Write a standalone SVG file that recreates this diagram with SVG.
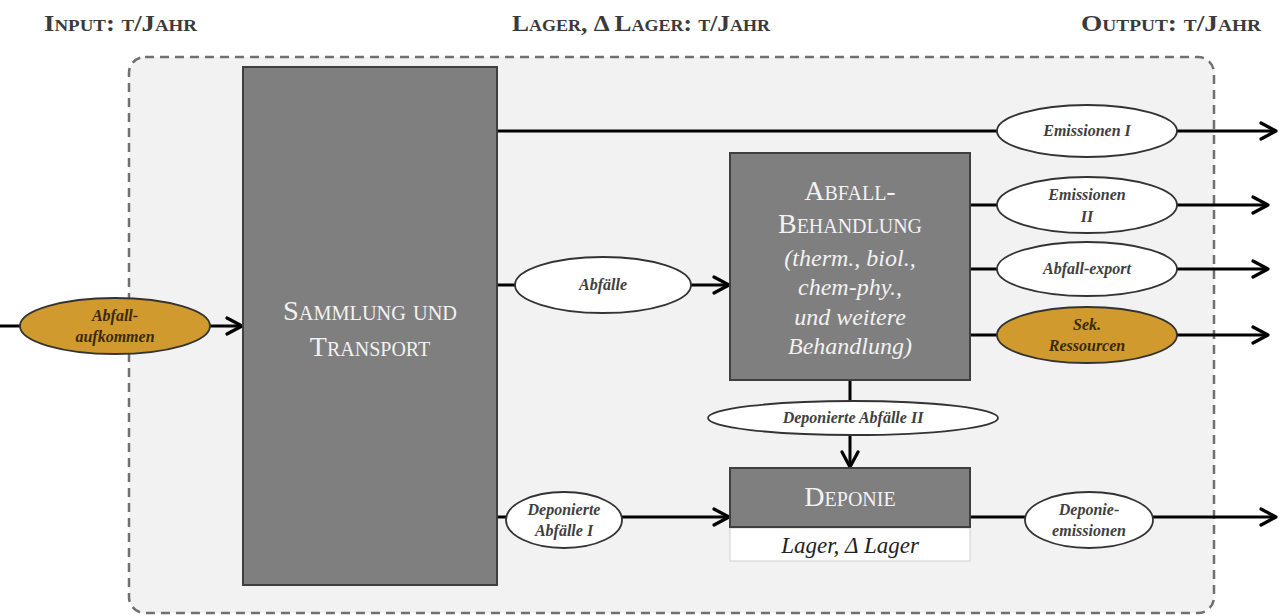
<svg xmlns="http://www.w3.org/2000/svg" width="1280" height="616" viewBox="0 0 1280 616">
<defs>
<marker id="arr" viewBox="0 0 20 20" refX="18" refY="10" markerWidth="20" markerHeight="20" markerUnits="userSpaceOnUse" orient="auto">
<path d="M3,2 L18,10 L3,18" fill="none" stroke="#000" stroke-width="3.2" stroke-linecap="round" stroke-linejoin="round"/>
</marker>
<style>
.hdr{font-family:"Liberation Serif","DejaVu Serif",serif;font-size:24px;font-variant:small-caps;font-weight:bold;fill:#3a3a3a}
.box{fill:#7f7f7f;stroke:#3f3f3f;stroke-width:2}
.btitle{font-family:"Liberation Serif","DejaVu Serif",serif;font-size:28px;font-variant:small-caps;fill:#f2f2f2;text-anchor:middle}
.bsub{font-family:"Liberation Serif","DejaVu Serif",serif;font-size:24px;font-style:italic;fill:#f2f2f2;text-anchor:middle}
.ell{fill:#ffffff;stroke:#333;stroke-width:1.8}
.gold{fill:#d09a2e;stroke:#333;stroke-width:1.8}
.et{font-family:"Liberation Serif","DejaVu Serif",serif;font-size:16px;font-style:italic;font-weight:bold;fill:#404040;text-anchor:middle}
.etg{font-family:"Liberation Serif","DejaVu Serif",serif;font-size:16px;font-style:italic;font-weight:bold;fill:#3a2a05;text-anchor:middle}
.ln{fill:none;stroke:#000;stroke-width:3}
</style>
</defs>
<rect width="1280" height="616" fill="#ffffff"/>
<text class="hdr" x="44" y="31" textLength="153" lengthAdjust="spacingAndGlyphs">Input: t/Jahr</text>
<text class="hdr" x="512" y="31" textLength="258" lengthAdjust="spacingAndGlyphs">Lager, Δ Lager: t/Jahr</text>
<text class="hdr" x="1081" y="31" textLength="180" lengthAdjust="spacingAndGlyphs">Output: t/Jahr</text>
<rect id="boundary" x="129" y="57" width="1085" height="556" rx="16" fill="#f2f2f2" stroke="#707070" stroke-width="2.5" stroke-dasharray="9,6"/>
<g id="connectors">
<line class="ln" x1="0" y1="326" x2="242" y2="326" marker-end="url(#arr)"/>
<line class="ln" x1="498" y1="131" x2="1276" y2="131" marker-end="url(#arr)"/>
<line class="ln" x1="498" y1="285" x2="729" y2="285" marker-end="url(#arr)"/>
<line class="ln" x1="498" y1="517" x2="729" y2="517" marker-end="url(#arr)"/>
<line class="ln" x1="971" y1="205" x2="1268" y2="205" marker-end="url(#arr)"/>
<line class="ln" x1="971" y1="269" x2="1268" y2="269" marker-end="url(#arr)"/>
<line class="ln" x1="971" y1="335" x2="1268" y2="335" marker-end="url(#arr)"/>
<line class="ln" x1="850" y1="381" x2="850" y2="467" marker-end="url(#arr)"/>
<line class="ln" x1="971" y1="517" x2="1276" y2="517" marker-end="url(#arr)"/>
</g>
<g id="sammlung">
<rect class="box" x="243" y="67" width="254" height="518"/>
<text class="btitle" x="370" y="320" textLength="174" lengthAdjust="spacingAndGlyphs">Sammlung und</text>
<text class="btitle" x="370" y="356">Transport</text>
</g>
<g id="behandlung">
<rect class="box" x="730" y="153" width="240" height="227"/>
<text class="btitle" x="850" y="200">Abfall-</text>
<text class="btitle" x="850" y="233" textLength="144" lengthAdjust="spacingAndGlyphs">Behandlung</text>
<text class="bsub" x="850" y="266">(therm., biol.,</text>
<text class="bsub" x="850" y="295">chem-phy.,</text>
<text class="bsub" x="850" y="325">und weitere</text>
<text class="bsub" x="850" y="354">Behandlung)</text>
</g>
<g id="deponie">
<rect x="730" y="528" width="240" height="33" fill="#ffffff" stroke="#cfcfcf" stroke-width="1"/>
<rect class="box" x="730" y="468" width="240" height="59"/>
<text class="btitle" x="850" y="506">Deponie</text>
<text x="850" y="553" font-family="'Liberation Serif','DejaVu Serif',serif" font-size="23" font-style="italic" fill="#222" text-anchor="middle">Lager, Δ Lager</text>
</g>
<g id="abfallaufkommen">
<ellipse class="gold" cx="115" cy="326" rx="95" ry="28"/>
<text class="etg" x="115" y="321">Abfall-</text>
<text class="etg" x="115" y="342">aufkommen</text>
</g>
<g id="abfaelle">
<ellipse class="ell" cx="603" cy="285" rx="88" ry="28"/>
<text class="et" x="603" y="290">Abfälle</text>
</g>
<g id="emissionen1">
<ellipse class="ell" cx="1087" cy="131" rx="90" ry="26"/>
<text class="et" x="1087" y="136">Emissionen I</text>
</g>
<g id="emissionen2">
<ellipse class="ell" cx="1087" cy="205" rx="90" ry="28"/>
<text class="et" x="1087" y="200">Emissionen</text>
<text class="et" x="1087" y="222">II</text>
</g>
<g id="abfallexport">
<ellipse class="ell" cx="1087" cy="269" rx="90" ry="27"/>
<text class="et" x="1087" y="274">Abfall-export</text>
</g>
<g id="sekressourcen">
<ellipse class="gold" cx="1087" cy="335" rx="90" ry="28"/>
<text class="etg" x="1087" y="330">Sek.</text>
<text class="etg" x="1087" y="351">Ressourcen</text>
</g>
<g id="deponierte2">
<ellipse class="ell" cx="853" cy="418" rx="145" ry="17"/>
<text class="et" x="853" y="423">Deponierte Abfälle II</text>
</g>
<g id="deponierte1">
<ellipse class="ell" cx="564" cy="520" rx="58" ry="28"/>
<text class="et" x="564" y="515">Deponierte</text>
<text class="et" x="564" y="536">Abfälle I</text>
</g>
<g id="deponieemissionen">
<ellipse class="ell" cx="1089" cy="520" rx="64" ry="28"/>
<text class="et" x="1089" y="515">Deponie-</text>
<text class="et" x="1089" y="536">emissionen</text>
</g>
</svg>
